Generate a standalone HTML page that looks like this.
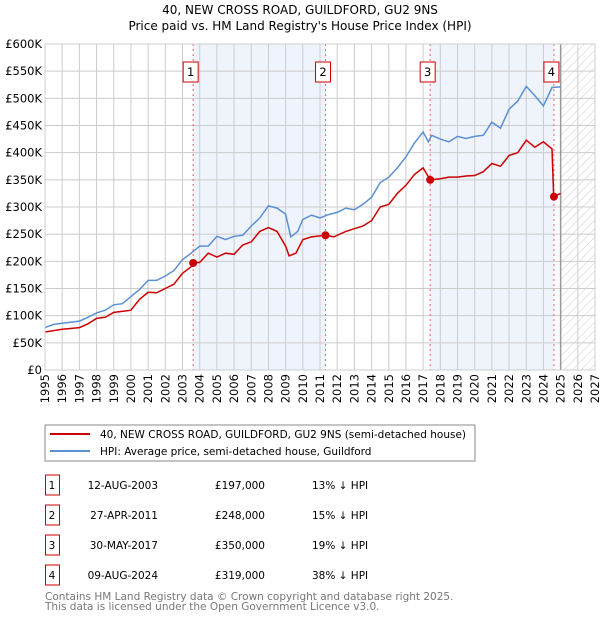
<!DOCTYPE html>
<html><head><meta charset="utf-8"><style>
body{margin:0;background:#fff;font-family:"Liberation Sans","DejaVu Sans",sans-serif;}
svg text{font-family:"DejaVu Sans","Liberation Sans",sans-serif;}
</style></head><body>
<svg id="c" width="600" height="620" xmlns="http://www.w3.org/2000/svg">
<defs><pattern id="hatch" width="6" height="6" patternUnits="userSpaceOnUse" patternTransform="rotate(45)"><line x1="0" y1="0" x2="0" y2="6" stroke="#ccc" stroke-width="1"/></pattern></defs>
<text x="300" y="14" text-anchor="middle" font-size="12">40, NEW CROSS ROAD, GUILDFORD, GU2 9NS</text>
<text x="300" y="30" text-anchor="middle" font-size="12">Price paid vs. HM Land Registry's House Price Index (HPI)</text>
<g id="plot"></g>
<rect x="45" y="425" width="430" height="36" fill="#fff" stroke="#888"/>
<line x1="50" y1="434" x2="90" y2="434" stroke="#cc0000" stroke-width="2"/>
<text x="100" y="438" font-size="10.5">40, NEW CROSS ROAD, GUILDFORD, GU2 9NS (semi-detached house)</text>
<line x1="50" y1="451" x2="90" y2="451" stroke="#5b8fd4" stroke-width="2"/>
<text x="100" y="455" font-size="10.5">HPI: Average price, semi-detached house, Guildford</text>
<g id="tbl"></g>
<text x="45" y="600" font-size="10.5" fill="#777">Contains HM Land Registry data © Crown copyright and database right 2025.</text>
<text x="45" y="610" font-size="10.5" fill="#777">This data is licensed under the Open Government Licence v3.0.</text>
</svg>
<script>
const hpiYears=[1995,1995.5,1996,1997,1997.5,1998,1998.5,1999,1999.5,2000,2000.5,2001,2001.5,2002,2002.5,2003,2003.5,2004,2004.5,2005,2005.5,2006,2006.5,2007,2007.5,2008,2008.5,2009,2009.3,2009.7,2010,2010.5,2011,2011.5,2012,2012.5,2013,2013.5,2014,2014.5,2015,2015.5,2016,2016.5,2017,2017.3,2017.5,2018,2018.5,2019,2019.5,2020,2020.5,2021,2021.5,2022,2022.5,2023,2023.5,2024,2024.5,2025];
const hpiValues=[78,84,86,90,97,105,110,120,122,135,148,165,165,173,183,203,215,228,228,246,240,246,248,265,280,302,298,287,245,255,277,285,280,286,290,298,295,305,318,345,355,372,392,418,438,420,432,425,420,430,426,430,432,456,445,480,495,522,505,486,520,521];
const priceYears=[1995,1996,1997,1997.5,1998,1998.5,1999,2000,2000.5,2001,2001.5,2002,2002.5,2003,2003.5,2003.62,2004,2004.5,2005,2005.5,2006,2006.5,2007,2007.5,2008,2008.5,2009,2009.2,2009.6,2010,2010.5,2011.32,2011.8,2012.5,2013,2013.5,2014,2014.5,2015,2015.5,2016,2016.5,2017,2017.41,2018,2018.5,2019,2019.5,2020,2020.5,2021,2021.5,2022,2022.5,2023,2023.5,2024,2024.5,2024.6,2025];
const priceValues=[70,75,78,85,95,97,106,110,130,143,142,150,158,178,190,197,198,215,208,215,213,230,236,255,262,255,228,210,215,240,245,248,245,255,260,265,275,300,305,325,340,360,372,350,352,355,355,357,358,365,380,375,395,400,423,410,420,407,319,325];
const saleLabels=["1","2","3","4"];
const saleYears=[2003.62,2011.32,2017.41,2024.61];
const saleValues=[197,248,350,319];
const saleDates=["12-AUG-2003","27-APR-2011","30-MAY-2017","09-AUG-2024"];
const salePrices=["£197,000","£248,000","£350,000","£319,000"];
const saleDiffs=["13% ↓ HPI","15% ↓ HPI","19% ↓ HPI","38% ↓ HPI"];
const yTicks=[0,50,100,150,200,250,300,350,400,450,500,550,600];
const yTickLabels=["£0","£50K","£100K","£150K","£200K","£250K","£300K","£350K","£400K","£450K","£500K","£550K","£600K"];
const xStart=1995,xEnd=2027;
const L=45,R=595,T=44,B=370;
const X=y=>L+(y-xStart)*(R-L)/(xEnd-xStart);
const Y=v=>B-v*(B-T)/600;
const NS="http://www.w3.org/2000/svg";
const g=document.getElementById('plot');
function mk(t,a,p){const e=document.createElementNS(NS,t);for(const k in a)e.setAttribute(k,a[k]);(p||g).appendChild(e);return e;}
let e=mk('rect',{x:L,y:T,width:R-L,height:B-T,fill:'#fff'});


[[0,1],[2,3]].forEach((p,i)=>{const r=mk('rect',{x:X(saleYears[p[0]]),y:T,width:X(saleYears[p[1]])-X(saleYears[p[0]]),height:B-T,fill:'#eef3fc'});

});
e=mk('rect',{x:X(2025),y:T,width:R-X(2025),height:B-T,fill:'url(#hatch)'});


for(let yr=xStart;yr<=xEnd;yr++){const l=mk('line',{x1:X(yr),x2:X(yr),y1:T,y2:B,stroke:'#ccc'});


const tx=X(yr)+4,ty=B+4;
const t=mk('text',{x:tx,y:ty,'text-anchor':'end','font-size':'11.5',transform:'rotate(-90 '+tx+' '+ty+')'});t.textContent=yr;

}
yTicks.forEach((v,i)=>{const l=mk('line',{x1:L,x2:R,y1:Y(v),y2:Y(v),stroke:'#ccc'});


const t=mk('text',{x:L-3,y:Y(v)+4,'text-anchor':'end','font-size':'11.5'});t.textContent=yTickLabels[i];

});
e=mk('line',{x1:X(2025),x2:X(2025),y1:T,y2:B,stroke:'#999','stroke-width':1.5});


saleYears.forEach((s,i)=>{const l=mk('line',{x1:X(s),x2:X(s),y1:T,y2:B,stroke:'#f06060','stroke-dasharray':'2,3'});

});
const pth=(xs,vs)=>xs.map((x,i)=>(i?'L':'M')+X(x).toFixed(1)+','+Y(vs[i]).toFixed(1)).join('');
e=mk('path',{d:pth(hpiYears,hpiValues),fill:'none',stroke:'#5b8fd4','stroke-width':1.5});


e=mk('path',{d:pth(priceYears,priceValues),fill:'none',stroke:'#cc0000','stroke-width':1.5});


saleYears.forEach((s,i)=>{const c=mk('circle',{cx:X(s),cy:Y(saleValues[i]),r:4,fill:'#cc0000'});


const bx=mk('rect',{x:X(s)-10,y:62,width:15,height:20,fill:'#fff',stroke:'#cc0000'});


const t=mk('text',{x:X(s)-2.5,y:76,'text-anchor':'middle','font-size':'11.5'});t.textContent=saleLabels[i];

});
e=mk('rect',{x:L,y:T,width:R-L,height:B-T,fill:'none',stroke:'#ccc'});


const tb=document.getElementById('tbl');
saleLabels.forEach((s,i)=>{const cy=485+i*30;
const r=mk('rect',{x:45.5,y:cy-10,width:14,height:20,fill:'#fff',stroke:'#cc0000'},tb);


[[52,s,'middle'],[158,saleDates[i],'end'],[265,salePrices[i],'end'],[312,saleDiffs[i],'start']].forEach(([x,txt,a],j)=>{
const t=mk('text',{x:x,y:cy+4,'text-anchor':a,'font-size':'10.5'},tb);t.textContent=txt;

});});
</script>
</body></html>
